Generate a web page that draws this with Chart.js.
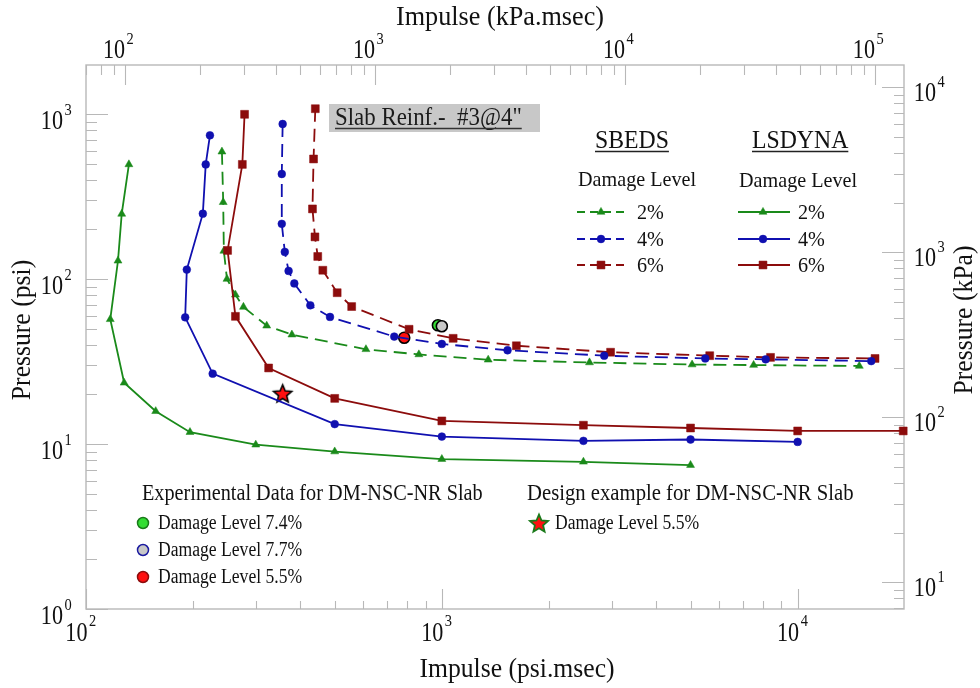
<!DOCTYPE html>
<html><head><meta charset="utf-8">
<script src="https://cdn.jsdelivr.net/npm/chart.js@4/dist/chart.umd.min.js"></script>
<style>html,body{margin:0;padding:0;background:#fff;overflow:hidden}</style>
</head><body>
<canvas id="c" width="980" height="688"></canvas>
<script>
// ---------------- data ----------------
const lsdyna2Impulse = [132, 126, 123, 117, 128, 157, 196, 300, 500, 1000, 2500, 5000];
const lsdyna2Pressure = [495, 248, 129, 57, 23.5, 15.8, 11.8, 9.9, 9.0, 8.1, 7.8, 7.45];
const lsdyna4Impulse = [223, 217, 213, 192, 190, 227, 500, 1000, 2500, 5000, 10000];
const lsdyna4Pressure = [743, 495, 249, 114, 58.6, 26.7, 13.2, 11.1, 10.45, 10.65, 10.3];
const lsdyna6Impulse = [279, 275, 250, 263, 326, 500, 1000, 2500, 5000, 10000, 19800];
const lsdyna6Pressure = [996, 495, 149, 59.4, 28.9, 18.9, 13.8, 13.0, 12.5, 12.0, 12.0];
const sbeds2Impulse = [241, 243, 244, 249, 263, 277, 322, 379, 612, 862, 1350, 2600, 5050, 7520, 14900];
const sbeds2Pressure = [591, 292, 148, 100, 80.3, 67.7, 52.1, 46.0, 37.5, 34.9, 32.4, 31.2, 30.3, 30.1, 29.7];
const sbeds4Impulse = [357, 355, 355, 362, 371, 385, 427, 485, 735, 1000, 1530, 2860, 5500, 8130, 16100];
const sbeds4Pressure = [870, 433, 216, 146, 112, 94, 69.3, 58.9, 44.8, 40.4, 37.0, 34.3, 33.0, 32.6, 31.8];
const sbeds6Impulse = [441, 436, 433, 440, 448, 463, 508, 558, 809, 1076, 1620, 2980, 5660, 8390, 16500];
const sbeds6Pressure = [1077, 534, 266, 180, 137, 113, 82.6, 68.1, 49.6, 43.7, 39.4, 36.0, 34.3, 33.5, 33.0];
const expImpulse = [975, 1000, 784];
const expPressure = [52.4, 51.7, 44.1];
const expLabels = ['Damage Level 7.4%', 'Damage Level 7.7%', 'Damage Level 5.5%'];
const designImpulse = [357];
const designPressure = [20.3];
const designLabels = ['Damage Level 5.5%'];
const damageLevels = ['2%', '4%', '6%'];
const xRange = [100, 19900];        // psi.msec
const yRange = [1, 1982];           // psi
const x2Range = [69.8, 130600];     // kPa.msec (top axis)
const PSI_TO_KPA = 6.895;

// ---------------- styles ----------------
const GREEN = '#1a8a1a', BLUE = '#1010b0', RED = '#8c0c0c';
const SERIF = '"Liberation Serif", "Times New Roman", serif';
const DASH = [13, 7];
const R_TRI = 4.6, R_CIR = 3.9, R_SQ = 5.6;

function pts(xs, ys) { return xs.map((x, i) => ({x: x, y: ys[i]})); }

function series(label, xs, ys, color, style, dashed, r) {
  return {
    label, data: pts(xs, ys), showLine: true,
    borderColor: color, backgroundColor: color, borderWidth: 1.8,
    borderDash: dashed ? DASH : [], pointStyle: style, pointRadius: r,
    pointBorderWidth: 0.5, pointBorderColor: color, pointBackgroundColor: color,
    tension: 0, clip: 12
  };
}

// filled star as point image
function makeStar(fill, stroke, R) {
  const c = document.createElement('canvas');
  const s = Math.ceil(R * 2 + 4);
  c.width = s; c.height = s;
  const g = c.getContext('2d');
  starPath(g, s / 2, s / 2 + 1, R, R * 0.45);
  g.fillStyle = fill; g.fill();
  g.lineWidth = 1.6; g.strokeStyle = stroke; g.stroke();
  return c;
}
function starPath(g, cx, cy, R, r) {
  g.beginPath();
  for (let i = 0; i < 10; i++) {
    const a = -Math.PI / 2 + i * Math.PI / 5;
    const rr = i % 2 ? r : R;
    const px = cx + rr * Math.cos(a), py = cy + rr * Math.sin(a);
    i ? g.lineTo(px, py) : g.moveTo(px, py);
  }
  g.closePath();
}

const expColors = ['#33dd33', '#c8c8c8', '#ff1010'];

const datasets = [
  series('LSDYNA 2%', lsdyna2Impulse, lsdyna2Pressure, GREEN, 'triangle', false, R_TRI),
  series('LSDYNA 4%', lsdyna4Impulse, lsdyna4Pressure, BLUE, 'circle', false, R_CIR),
  series('LSDYNA 6%', lsdyna6Impulse, lsdyna6Pressure, RED, 'rect', false, R_SQ),
  series('SBEDS 2%', sbeds2Impulse, sbeds2Pressure, GREEN, 'triangle', true, R_TRI),
  series('SBEDS 4%', sbeds4Impulse, sbeds4Pressure, BLUE, 'circle', true, R_CIR),
  series('SBEDS 6%', sbeds6Impulse, sbeds6Pressure, RED, 'rect', true, R_SQ),
  {
    label: 'Experimental', data: pts(expImpulse, expPressure), showLine: false,
    pointRadius: 5.5, pointBorderWidth: 1.6, pointBorderColor: '#000',
    pointBackgroundColor: expColors, clip: 12
  },
  {
    label: 'Design', data: pts(designImpulse, designPressure), showLine: false,
    pointStyle: makeStar('#ff1010', '#000', 9.5), pointRadius: 10, clip: 12
  }
];

// ---------------- helpers for drawing text ----------------
function txt(ctx, s, x, y, size, sx, align, color) {
  ctx.save();
  ctx.font = size + 'px ' + SERIF;
  ctx.fillStyle = color || '#111';
  ctx.textAlign = align || 'left';
  ctx.textBaseline = 'alphabetic';
  ctx.translate(x, y); ctx.scale(sx, 1);
  ctx.fillText(s, 0, 0);
  const w = ctx.measureText(s).width * sx;
  ctx.restore();
  return w;
}
function underline(ctx, x1, x2, y, color) {
  ctx.save(); ctx.strokeStyle = color || '#222'; ctx.lineWidth = 1.3;
  ctx.beginPath(); ctx.moveTo(x1, y); ctx.lineTo(x2, y); ctx.stroke(); ctx.restore();
}
function pow10(ctx, e, xRightOf10, base, supBase) {
  txt(ctx, '10', xRightOf10, base, 27, 0.82, 'right');
  txt(ctx, String(e), xRightOf10 + 1.5, supBase, 17, 0.85, 'left');
}
function logTicks(min, max) {
  const out = [];
  for (let d = Math.floor(Math.log10(min)); d <= Math.ceil(Math.log10(max)); d++) {
    for (let k = 1; k <= 9; k++) {
      const v = k * Math.pow(10, d);
      if (v >= min * 0.9999 && v <= max * 1.0001) out.push({v, major: k === 1, e: d});
    }
  }
  return out;
}

const framePlugin = {
  id: 'frame',
  beforeDatasetsDraw(chart) {
    const ctx = chart.ctx, a = chart.chartArea;
    const sx = chart.scales.x, sx2 = chart.scales.x2, sy = chart.scales.y, sy2 = chart.scales.y2;
    ctx.save();
    ctx.strokeStyle = '#b8b8b8'; ctx.lineWidth = 1.4;
    ctx.strokeRect(a.left, a.top, a.right - a.left, a.bottom - a.top);
    ctx.lineWidth = 1.1;
    ctx.beginPath();
    logTicks(xRange[0], xRange[1]).forEach(t => {
      const p = Math.round(sx.getPixelForValue(t.v)) + 0.5;
      ctx.moveTo(p, a.bottom); ctx.lineTo(p, a.bottom - (t.major ? 20 : 8));
    });
    logTicks(x2Range[0], x2Range[1]).forEach(t => {
      const p = Math.round(sx2.getPixelForValue(t.v)) + 0.5;
      ctx.moveTo(p, a.top); ctx.lineTo(p, a.top + (t.major ? 20 : 10));
    });
    logTicks(yRange[0], yRange[1]).forEach(t => {
      const p = Math.round(sy.getPixelForValue(t.v)) + 0.5;
      ctx.moveTo(a.left, p); ctx.lineTo(a.left + (t.major ? 22 : 11), p);
    });
    logTicks(yRange[0] * PSI_TO_KPA, yRange[1] * PSI_TO_KPA).forEach(t => {
      const p = Math.round(sy2.getPixelForValue(t.v)) + 0.5;
      ctx.moveTo(a.right, p); ctx.lineTo(a.right - (t.major ? 22 : 10), p);
    });
    ctx.stroke();
    ctx.restore();
  },
  afterDraw(chart) {
    const ctx = chart.ctx;
    const sx = chart.scales.x, sx2 = chart.scales.x2, sy = chart.scales.y, sy2 = chart.scales.y2;
    // tick labels
    logTicks(xRange[0], xRange[1]).filter(t => t.major).forEach(t => {
      pow10(ctx, t.e, sx.getPixelForValue(t.v) + 1.5, 641, 626);
    });
    logTicks(x2Range[0], x2Range[1]).filter(t => t.major).forEach(t => {
      pow10(ctx, t.e, sx2.getPixelForValue(t.v), 58, 44);
    });
    logTicks(yRange[0], yRange[1]).filter(t => t.major).forEach(t => {
      const p = sy.getPixelForValue(t.v);
      pow10(ctx, t.e, 63, p + 15, p + 1);
    });
    logTicks(yRange[0] * PSI_TO_KPA, yRange[1] * PSI_TO_KPA).filter(t => t.major).forEach(t => {
      const p = sy2.getPixelForValue(t.v);
      pow10(ctx, t.e, 936, p + 14, p);
    });
    // axis titles
    txt(ctx, 'Impulse (kPa.msec)', 500, 25, 27, 0.97, 'center');
    txt(ctx, 'Impulse (psi.msec)', 517, 677, 27, 0.95, 'center');
    ctx.save(); ctx.translate(30, 330); ctx.rotate(-Math.PI / 2);
    txt(ctx, 'Pressure (psi)', 0, 0, 27, 0.95, 'center'); ctx.restore();
    ctx.save(); ctx.translate(972, 320); ctx.rotate(-Math.PI / 2);
    txt(ctx, 'Pressure (kPa)', 0, 0, 27, 0.95, 'center'); ctx.restore();

    // title box
    ctx.save(); ctx.fillStyle = '#c8c8c8'; ctx.fillRect(329, 104, 211, 28); ctx.restore();
    const wT = txt(ctx, 'Slab Reinf.-  #3@4"', 335, 125, 26, 0.88, 'left', '#1a1a1a');
    underline(ctx, 335, 335 + wT, 128.5, '#333');

    // SBEDS / LSDYNA legends
    let w = txt(ctx, 'SBEDS', 595, 148, 25, 0.95, 'left');
    underline(ctx, 595, 595 + w, 151.5);
    w = txt(ctx, 'LSDYNA', 752, 148, 25, 0.95, 'left');
    underline(ctx, 752, 752 + w, 151.5);
    txt(ctx, 'Damage Level', 578, 186, 21, 0.96, 'left');
    txt(ctx, 'Damage Level', 739, 187, 21, 0.96, 'left');
    const cols = [GREEN, BLUE, RED], styles = ['triangle', 'circle', 'rect'], rads = [R_TRI, R_CIR, R_SQ];
    const rows = [212, 239, 265];
    damageLevels.forEach((lab, i) => {
      const y = rows[i];
      ctx.save(); ctx.strokeStyle = cols[i]; ctx.lineWidth = 1.8; ctx.setLineDash([8, 5]);
      ctx.beginPath(); ctx.moveTo(577, y); ctx.lineTo(628, y); ctx.stroke(); ctx.restore();
      ctx.save(); ctx.strokeStyle = cols[i]; ctx.lineWidth = 1.8;
      ctx.beginPath(); ctx.moveTo(738, y); ctx.lineTo(790, y); ctx.stroke(); ctx.restore();
      [601, 763].forEach(mx => {
        ctx.save(); ctx.fillStyle = cols[i]; ctx.strokeStyle = cols[i]; ctx.lineWidth = 0.5;
        Chart.helpers.drawPoint(ctx, {pointStyle: styles[i], radius: rads[i], borderWidth: 0.5}, mx, y);
        ctx.restore();
      });
      txt(ctx, lab, 637, y + 7, 21, 0.96, 'left');
      txt(ctx, lab, 798, y + 7, 21, 0.96, 'left');
    });

    // experimental legend
    txt(ctx, 'Experimental Data for DM-NSC-NR Slab', 142, 500, 23, 0.88, 'left');
    const legBorders = ['#1a7a1a', '#1a1aa0', '#8c0c0c'];
    const eRows = [523, 550, 577];
    expLabels.forEach((lab, i) => {
      ctx.save(); ctx.beginPath(); ctx.arc(143, eRows[i], 5.5, 0, Math.PI * 2);
      ctx.fillStyle = expColors[i]; ctx.fill(); ctx.lineWidth = 1.5; ctx.strokeStyle = legBorders[i]; ctx.stroke();
      ctx.restore();
      txt(ctx, lab, 158, eRows[i] + 6, 20, 0.88, 'left');
    });
    txt(ctx, 'Design example for DM-NSC-NR Slab', 527, 500, 23, 0.9, 'left');
    ctx.save(); starPath(ctx, 539, 524, 9.5, 4.3); ctx.fillStyle = '#ff1010'; ctx.fill();
    ctx.lineWidth = 1.8; ctx.strokeStyle = '#1a7a1a'; ctx.stroke(); ctx.restore();
    txt(ctx, designLabels[0], 555, 529, 20, 0.88, 'left');
  }
};

const hiddenAxis = (extra) => Object.assign({
  type: 'logarithmic', display: true,
  ticks: {display: false}, grid: {display: false}, border: {display: false}
}, extra);

new Chart(document.getElementById('c'), {
  type: 'scatter',
  data: {datasets},
  options: {
    responsive: false, animation: false, devicePixelRatio: 1,
    layout: {padding: 0},
    plugins: {legend: {display: false}, tooltip: {enabled: false}},
    scales: {
      x: hiddenAxis({position: 'bottom', min: xRange[0], max: xRange[1], afterFit: s => { s.height = 79; }}),
      x2: hiddenAxis({position: 'top', min: x2Range[0], max: x2Range[1], afterFit: s => { s.height = 65; }}),
      y: hiddenAxis({position: 'left', min: yRange[0], max: yRange[1], afterFit: s => { s.width = 86; }}),
      y2: hiddenAxis({position: 'right', min: yRange[0] * PSI_TO_KPA, max: yRange[1] * PSI_TO_KPA, afterFit: s => { s.width = 76; }})
    }
  },
  plugins: [framePlugin]
});
</script>
</body></html>
